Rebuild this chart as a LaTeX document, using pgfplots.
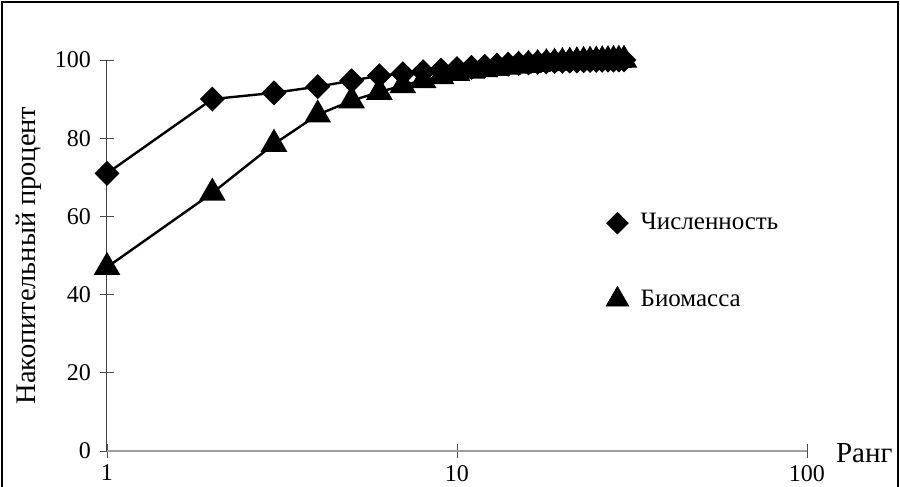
\documentclass[border=0pt]{standalone}
\usepackage{fontspec}
\setmainfont{Liberation Serif}
\usepackage{pgfplots}
\pgfplotsset{compat=1.18}
\pgfplotstableread{
r y
1 71.0
2 90.0
3 91.6
4 93.2
5 94.7
6 96.0
7 96.5
8 97.0
9 97.4
10 97.8
11 98.1
12 98.4
13 98.7
14 98.9
15 99.1
16 99.25
17 99.4
18 99.5
19 99.6
20 99.65
21 99.7
22 99.75
23 99.8
24 99.85
25 99.9
26 99.92
27 99.95
28 99.97
29 99.99
30 100
}\numtab
\pgfplotstableread{
r y
1 47.0
2 66.0
3 78.5
4 86.0
5 89.6
6 91.8
7 93.5
8 94.8
9 95.8
10 96.6
11 97.2
12 97.6
13 97.9
14 98.2
15 98.5
16 98.7
17 98.9
18 99.1
19 99.25
20 99.4
21 99.5
22 99.6
23 99.7
24 99.75
25 99.8
26 99.85
27 99.9
28 99.95
29 99.98
30 100
}\biotab
\begin{document}
\begin{tikzpicture}
\useasboundingbox (0,0) rectangle (450pt,243.5pt);
\draw[line width=1pt] (1.2pt,0) -- (1.2pt,242.3pt) -- (448.8pt,242.3pt) -- (448.8pt,0);
\begin{axis}[
  at={(53.5pt,18pt)}, anchor=south west,
  scale only axis, width=350pt, height=195.5pt,
  xmode=log, xmin=1, xmax=100, ymin=0, ymax=100,
  axis x line=bottom, axis y line=left,
  axis line style={-},
  x axis line style={-, draw=gray!75, line width=1pt},
  y axis line style={-, draw=black!75, line width=0.5pt},
  xtick={1,10,100}, xticklabels={1,10,100},
  ytick={0,20,40,60,80,100},
  xminorticks=false, yminorticks=false,
  tick align=center, major tick length=7pt,
  tick style={draw=black!70, line width=0.4pt},
  /pgf/number format/assume math mode=true,
  tick label style={font=\fontsize{12}{14}\selectfont},
  yticklabel style={xshift=-1pt},
  xlabel={Ранг},
  xlabel style={font=\fontsize{14.5}{17}\selectfont, at={(rel axis cs:1,0)}, anchor=west, xshift=11pt, yshift=-1pt},
  ylabel={Накопительный процент},
  ylabel style={font=\fontsize{14.2}{17}\selectfont},
  clip=false,
  legend style={at={(rel axis cs:0.704,0.629)}, anchor=north west, draw=none, fill=none,
    font=\fontsize{12.5}{15}\selectfont, row sep=24.5pt},
  legend cell align=left,
]
\addplot[black, line width=1.2pt, mark=square*, mark size=3.8pt, mark options={rotate=45, solid}, forget plot] table[x=r,y=y] {\numtab};
\addplot[black, line width=1.2pt, mark=triangle*, mark size=6.5pt, mark options={solid}, forget plot] table[x=r,y=y] {\biotab};
\addlegendimage{only marks, black, mark=square*, mark size=3.8pt, mark options={rotate=45}}
\addlegendentry{\hspace{4pt}Численность}
\addlegendimage{only marks, black, mark=triangle*, mark size=6.5pt}
\addlegendentry{\hspace{4pt}Биомасса}
\end{axis}
\end{tikzpicture}
\end{document}
